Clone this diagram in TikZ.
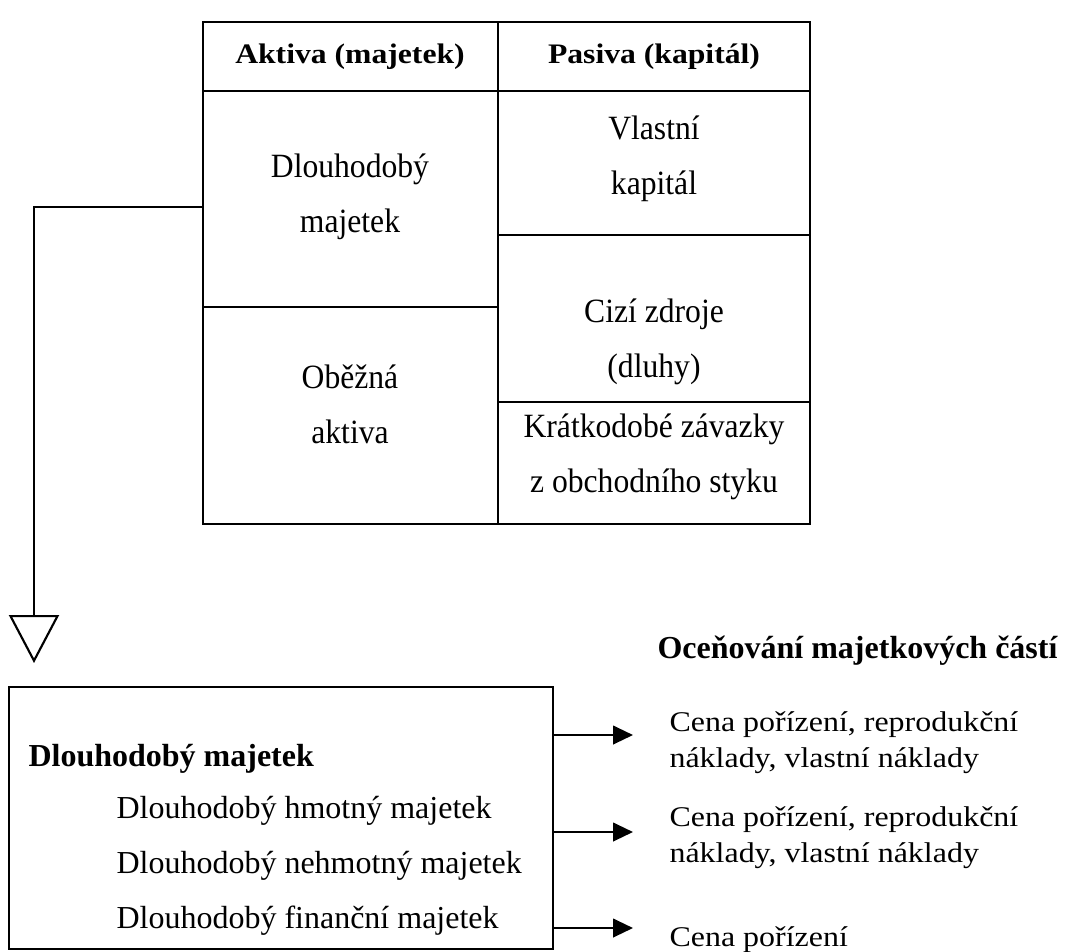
\documentclass[tikz,border=0pt]{standalone}
\usepackage{fontspec}
\setmainfont{Liberation Serif}
\newfontfamily\tallserif[FakeStretch=0.93]{Liberation Serif}
\newfontfamily\wideserif[FakeStretch=1.12]{Liberation Serif}
\usepackage{tikz}
\usetikzlibrary{positioning,arrows.meta}

\begin{document}
\begin{tikzpicture}[
    x=0.375pt, y=-0.375pt,
    every node/.style={font=\fontsize{12}{14}\selectfont, inner sep=0pt, anchor=base},
    tbl/.style={line width=1.1pt},
    cell/.style={align=center, font=\tallserif\fontsize{12.75}{20.6}\selectfont},
    head/.style={font=\wideserif\fontsize{10.6}{12}\selectfont\bfseries},
    bhead/.style={anchor=base west, font=\fontsize{12}{14}\selectfont\bfseries},
    item/.style={anchor=base west, align=left},
    price/.style={anchor=base west, align=left, font=\wideserif\fontsize{10.7}{13.5}\selectfont},
    rule/.style={line width=0.8pt},
    arr/.style={line width=0.8pt, -{Triangle[length=7.5pt,width=7pt]}}
]
\useasboundingbox (0,0) rectangle (1074,952);

% balance sheet
\draw[tbl] (203,22) rectangle (810,524);
\draw[tbl] (203,91) -- (810,91);
\draw[tbl] (498,22) -- (498,524);
\draw[tbl] (203,307) -- (498,307);
\draw[tbl] (498,235) -- (810,235);
\draw[tbl] (498,402) -- (810,402);

\node[head] (aktiva) at (350,63) {Aktiva (majetek)};
\node[head] (pasiva) at (654,63) {Pasiva (kapitál)};

% base anchor sits on the last line
\node[cell] (dm) at (350,232) {Dlouhodobý\\majetek};
\node[cell] (oa) at (350,443) {Oběžná\\aktiva};
\node[cell] (vk) at (654,194) {Vlastní\\kapitál};
\node[cell] (cz) at (654,377) {Cizí zdroje\\(dluhy)};
\node[cell] (kz) at (654,492) {Krátkodobé závazky\\z obchodního styku};

% link to detail box
\coordinate (tl) at (203,207);
\coordinate (tip) at (34,663);
\draw[rule, -{Triangle[open,length=18pt,width=18.75pt,line width=0.8pt]}] (tl) -| (tip);

% detail box
\draw[rule] (9,687) rectangle (553,949);
\coordinate (be) at (553,818);

\node[bhead] (dlm) at (28,766) {Dlouhodobý majetek};
\node[item] (hm) at (116,818) {Dlouhodobý hmotný majetek};
\node[item] (nm) at (116,873) {Dlouhodobý nehmotný majetek};
\node[item] (fm) at (116,928) {Dlouhodobý finanční majetek};

% valuation
\node[bhead] (oc) at (657,658) {Oceňování majetkových částí};
\node[price] (c1) at (669,767) {Cena pořízení, reprodukční\\náklady, vlastní náklady};
\node[price] (c2) at (669,862) {Cena pořízení, reprodukční\\náklady, vlastní náklady};
\node[price] (c3) at (669,946) {Cena pořízení};

\coordinate (a1) at (633,735);
\coordinate (a2) at (633,832);
\coordinate (a3) at (633,928);
\draw[arr] (be |- a1) -- (a1);
\draw[arr] (be |- a2) -- (a2);
\draw[arr] (be |- a3) -- (a3);

\end{tikzpicture}
\end{document}
